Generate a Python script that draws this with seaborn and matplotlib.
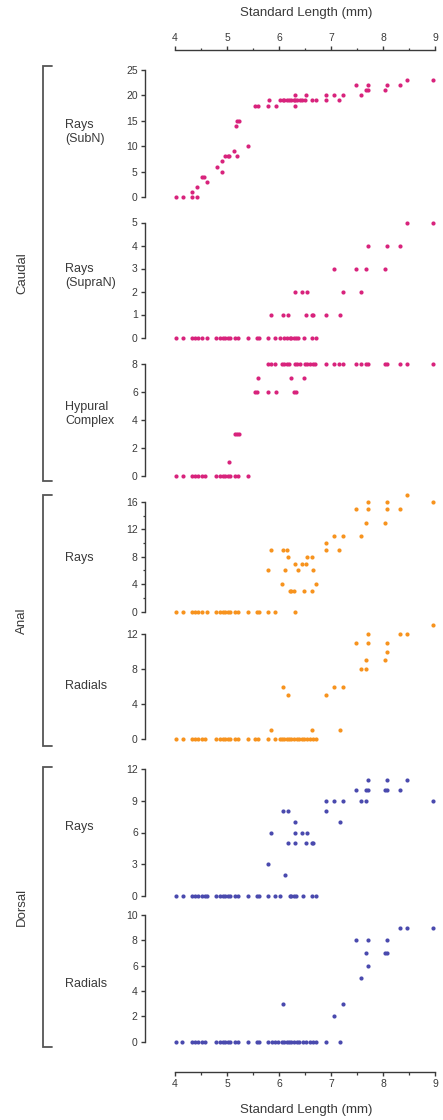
import matplotlib
matplotlib.use("Agg")
import matplotlib.pyplot as plt
from matplotlib.lines import Line2D
import seaborn as sns

sns.set_theme(style="ticks")
plt.rcParams["font.family"] = ["Liberation Sans", "DejaVu Sans"]

# ---------------------------------------------------------------- data
# Standard length (mm) of each specimen and the element count scored on it.

caudal_subn_sl = [4.02, 4.16, 4.33, 4.43, 4.33, 4.43, 4.51, 4.56, 4.61, 4.80, 4.90, 4.90,
                  4.96, 5.01, 5.04, 5.13, 5.20, 5.17, 5.20, 5.23, 5.41, 5.54, 5.60, 5.78,
                  5.81, 5.94, 6.02, 6.07, 6.10, 6.15, 6.20, 6.24, 6.28, 6.31, 6.35, 6.40,
                  6.44, 6.50, 6.31, 6.31, 6.52, 6.63, 6.71, 6.90, 6.90, 7.06, 7.16, 7.24,
                  7.48, 7.57, 7.67, 7.72, 7.72, 8.04, 8.07, 8.33, 8.47, 8.97]
caudal_subn_n = [0, 0, 0, 0, 1, 2, 4, 4, 3, 6, 7, 5,
                 8, 8, 8, 9, 8, 14, 15, 15, 10, 18, 18, 18,
                 19, 18, 19, 19, 19, 19, 19, 19, 19, 19, 19, 19,
                 19, 19, 20, 18, 20, 19, 19, 20, 19, 20, 19, 20,
                 22, 20, 21, 21, 22, 21, 22, 22, 23, 23]

caudal_supran_sl = [4.02, 4.16, 4.33, 4.38, 4.45, 4.51, 4.61, 4.79, 4.87, 4.92, 4.96, 5.01,
                    5.06, 5.15, 5.22, 5.41, 5.57, 5.62, 5.79, 5.92, 6.02, 6.10, 6.15, 6.21,
                    6.24, 6.28, 6.32, 6.37, 6.48, 6.63, 6.71,
                    5.85, 6.07, 6.17, 6.52, 6.63, 6.65, 6.90, 7.17,
                    6.31, 6.44, 6.54, 7.24, 7.57,
                    7.06, 7.48, 7.67, 8.04,
                    7.72, 8.07, 8.33,
                    8.47, 8.97]
caudal_supran_n = [0, 0, 0, 0, 0, 0, 0, 0, 0, 0, 0, 0,
                   0, 0, 0, 0, 0, 0, 0, 0, 0, 0, 0, 0,
                   0, 0, 0, 0, 0, 0, 0,
                   1, 1, 1, 1, 1, 1, 1, 1,
                   2, 2, 2, 2, 2,
                   3, 3, 3, 3,
                   4, 4, 4,
                   5, 5]

hypural_sl = [5.79, 5.85, 5.92, 6.05, 6.10, 6.15, 6.20, 6.31, 6.35, 6.40, 6.50, 6.54,
              6.60, 6.65, 6.69, 6.90, 7.06, 7.16, 7.24, 7.48, 7.57, 7.67, 7.72, 8.04,
              8.07, 8.33, 8.47, 8.97,
              5.60, 6.24, 6.48,
              5.54, 5.58, 5.78, 5.94, 6.29, 6.33,
              5.15, 5.20, 5.23,
              5.04,
              4.02, 4.16, 4.33, 4.38, 4.45, 4.51, 4.58, 4.79, 4.87, 4.92, 4.96, 5.01,
              5.06, 5.15, 5.22, 5.41]
hypural_n = [8, 8, 8, 8, 8, 8, 8, 8, 8, 8, 8, 8,
             8, 8, 8, 8, 8, 8, 8, 8, 8, 8, 8, 8,
             8, 8, 8, 8,
             7, 7, 7,
             6, 6, 6, 6, 6, 6,
             3, 3, 3,
             1,
             0, 0, 0, 0, 0, 0, 0, 0, 0, 0, 0, 0,
             0, 0, 0, 0]

anal_rays_sl = [8.47,
                7.72, 8.07, 8.97,
                7.48, 7.72, 8.07, 8.33,
                7.67, 8.04,
                7.06, 7.24, 7.57,
                6.90,
                5.85, 6.07, 6.15, 6.90, 7.16,
                6.17, 6.54, 6.63,
                6.31, 6.44, 6.52,
                5.79, 6.12, 6.37, 6.66,
                6.05, 6.71,
                6.21, 6.24, 6.28, 6.48, 6.63,
                4.02, 4.16, 4.33, 4.38, 4.45, 4.51, 4.61, 4.79, 4.87, 4.92, 4.96, 5.01,
                5.06, 5.15, 5.22, 5.41, 5.57, 5.62, 5.79, 5.92, 6.31]
anal_rays_n = [17,
               16, 16, 16,
               15, 15, 15, 15,
               13, 13,
               11, 11, 11,
               10,
               9, 9, 9, 9, 9,
               8, 8, 8,
               7, 7, 7,
               6, 6, 6, 6,
               4, 4,
               3, 3, 3, 3, 3,
               0, 0, 0, 0, 0, 0, 0, 0, 0, 0, 0, 0,
               0, 0, 0, 0, 0, 0, 0, 0, 0]

anal_radials_sl = [8.97,
                   7.72, 8.33, 8.47,
                   7.48, 7.72, 8.07,
                   8.07,
                   7.67, 8.04,
                   7.57, 7.67,
                   6.07, 7.06, 7.24,
                   6.17, 6.90,
                   5.85, 6.63, 7.17,
                   4.02, 4.16, 4.33, 4.38, 4.45, 4.51, 4.58, 4.79, 4.87, 4.92, 4.96, 5.01,
                   5.06, 5.15, 5.22, 5.41, 5.54, 5.60, 5.79, 5.92, 6.02, 6.05, 6.10, 6.15,
                   6.20, 6.24, 6.29, 6.34, 6.39, 6.44, 6.48, 6.53, 6.60, 6.65, 6.71]
anal_radials_n = [13,
                  12, 12, 12,
                  11, 11, 11,
                  10,
                  9, 9,
                  8, 8,
                  6, 6, 6,
                  5, 5,
                  1, 1, 1,
                  0, 0, 0, 0, 0, 0, 0, 0, 0, 0, 0, 0,
                  0, 0, 0, 0, 0, 0, 0, 0, 0, 0, 0, 0,
                  0, 0, 0, 0, 0, 0, 0, 0, 0, 0, 0]

dorsal_rays_sl = [7.72, 8.07, 8.47,
                  7.48, 7.67, 7.72, 8.04, 8.07, 8.33,
                  6.90, 7.06, 7.24, 7.57, 7.67, 8.97,
                  6.07, 6.17, 6.90,
                  6.31, 7.17,
                  5.85, 6.31, 6.44, 6.54,
                  6.17, 6.31, 6.52, 6.63, 6.66,
                  5.79,
                  6.12,
                  4.02, 4.16, 4.33, 4.38, 4.45, 4.51, 4.58, 4.61, 4.79, 4.87, 4.92, 4.96,
                  5.01, 5.06, 5.15, 5.22, 5.41, 5.57, 5.62, 5.79, 5.92, 6.02, 6.21, 6.24,
                  6.29, 6.33, 6.47, 6.63, 6.71]
dorsal_rays_n = [11, 11, 11,
                 10, 10, 10, 10, 10, 10,
                 9, 9, 9, 9, 9, 9,
                 8, 8, 8,
                 7, 7,
                 6, 6, 6, 6,
                 5, 5, 5, 5, 5,
                 3,
                 2,
                 0, 0, 0, 0, 0, 0, 0, 0, 0, 0, 0, 0,
                 0, 0, 0, 0, 0, 0, 0, 0, 0, 0, 0, 0,
                 0, 0, 0, 0, 0]

dorsal_radials_sl = [8.33, 8.47, 8.97,
                     7.48, 7.72, 8.07,
                     7.67, 8.04, 8.07,
                     7.72,
                     7.57,
                     6.07, 7.24,
                     7.06,
                     4.02, 4.13, 4.33, 4.38, 4.45, 4.51, 4.58, 4.79, 4.87, 4.92, 4.96, 5.01,
                     5.06, 5.15, 5.22, 5.41, 5.57, 5.62, 5.79, 5.86, 5.92, 5.99, 6.05, 6.10,
                     6.15, 6.20, 6.24, 6.29, 6.34, 6.39, 6.46, 6.52, 6.60, 6.66, 6.72, 6.90,
                     7.17]
dorsal_radials_n = [9, 9, 9,
                    8, 8, 8,
                    7, 7, 7,
                    6,
                    5,
                    3, 3,
                    2,
                    0, 0, 0, 0, 0, 0, 0, 0, 0, 0, 0, 0,
                    0, 0, 0, 0, 0, 0, 0, 0, 0, 0, 0, 0,
                    0, 0, 0, 0, 0, 0, 0, 0, 0, 0, 0, 0,
                    0]

sl_ticks = [4, 5, 6, 7, 8, 9]
panel_labels = ["Rays\n(SubN)", "Rays\n(SupraN)", "Hypural\nComplex",
                "Rays", "Radials", "Rays", "Radials"]
group_labels = ["Caudal", "Anal", "Dorsal"]

# ---------------------------------------------------------------- styling
MAGENTA = "#d8237c"
ORANGE = "#f7931e"
BLUE = "#4a4aae"
INK = "#3a3a3a"

W, H = 443, 1120
X0, X1 = 175, 435          # pixel extent of 4..9 mm

panels = [
    # x, y, yticks, minor yticks, colour, top px, bottom px, label centre px
    (caudal_subn_sl, caudal_subn_n, [0, 5, 10, 15, 20, 25], [], MAGENTA, 70, 197, 132),
    (caudal_supran_sl, caudal_supran_n, [0, 1, 2, 3, 4, 5], [], MAGENTA, 222.5, 337.5, 276),
    (hypural_sl, hypural_n, [0, 2, 4, 6, 8], [], MAGENTA, 364, 475.5, 414),
    (anal_rays_sl, anal_rays_n, [0, 4, 8, 12, 16], [2, 6, 10, 14], ORANGE, 502, 611.5, 558),
    (anal_radials_sl, anal_radials_n, [0, 4, 8, 12], [], ORANGE, 634, 739, 686),
    (dorsal_rays_sl, dorsal_rays_n, [0, 3, 6, 9, 12], [], BLUE, 769, 896, 827),
    (dorsal_radials_sl, dorsal_radials_n, [0, 2, 4, 6, 8, 10], [], BLUE, 915, 1041.5, 984),
]

brackets = [(66, 481), (495, 746), (767, 1047)]


def px_to_pt(px):
    return px * 72.0 / 100.0


fig = plt.figure(figsize=(W / 100, H / 100), dpi=100)

axes = []
for i, (xs, ys, yt, ymin, col, top, bot, lab_y) in enumerate(panels):
    ax = fig.add_axes([X0 / W, 1 - bot / H, (X1 - X0) / W, (bot - top) / H])
    ax.patch.set_alpha(0)
    sns.scatterplot(x=xs, y=ys, ax=ax, color=col, s=9, linewidth=0,
                    clip_on=False, legend=False, zorder=3)
    ax.set_xlim(4, 9)
    ax.set_ylim(0, yt[-1])
    ax.set_yticks(yt)
    ax.set_yticks(ymin, minor=True)
    ax.set_xlabel("")
    ax.set_ylabel("")
    for side in ("top", "right", "bottom"):
        ax.spines[side].set_visible(False)
    ax.spines["left"].set_position(("outward", px_to_pt(30)))
    ax.spines["left"].set_color(INK)
    ax.spines["left"].set_linewidth(1.0)
    ax.tick_params(axis="y", which="major", direction="out", length=3.2, width=1.0,
                   color=INK, labelsize=7.5, labelcolor=INK, pad=2.0)
    ax.tick_params(axis="y", which="minor", direction="out", length=1.8, width=0.9,
                   color=INK)
    ax.set_xticks([])
    ax.text(65 / W, 1 - lab_y / H, panel_labels[i], transform=fig.transFigure,
            ha="left", va="center", fontsize=9, color=INK, linespacing=1.15)
    axes.append(ax)

# Standard length axes, above the first panel and below the last one
for ax, side, off in ((axes[0], "top", 20), (axes[-1], "bottom", 30)):
    ax.spines[side].set_visible(True)
    ax.spines[side].set_position(("outward", px_to_pt(off)))
    ax.spines[side].set_color(INK)
    ax.spines[side].set_linewidth(1.0)
    ax.set_xticks(sl_ticks)
    ax.set_xticks([4.5, 5.5, 6.5, 7.5, 8.5], minor=True)
    if side == "top":
        ax.xaxis.set_ticks_position("top")
    else:
        ax.xaxis.set_ticks_position("bottom")
    ax.tick_params(axis="x", which="major", direction="out", length=3.2, width=1.0,
                   color=INK, labelsize=7.5, labelcolor=INK, pad=2.0)
    ax.tick_params(axis="x", which="minor", direction="out", length=1.8, width=0.9,
                   color=INK)

fig.text(306 / W, 1 - 13 / H, "Standard Length (mm)", ha="center", va="center",
         fontsize=9.5, color=INK)
fig.text(306 / W, 1 - 1110 / H, "Standard Length (mm)", ha="center", va="center",
         fontsize=9.5, color=INK)

# group brackets and labels
for (t, b), name in zip(brackets, group_labels):
    xs_b = [51.5 / W, 42.5 / W, 42.5 / W, 51.5 / W]
    ys_b = [1 - t / H, 1 - t / H, 1 - b / H, 1 - b / H]
    fig.add_artist(Line2D(xs_b, ys_b, transform=fig.transFigure, color="#555555",
                          linewidth=1.3, solid_joinstyle="miter"))
    fig.text(22 / W, 1 - (t + b) / 2 / H, name, rotation=90, ha="center",
             va="center", fontsize=9.5, color=INK)

fig.savefig("out.png", dpi=100)
